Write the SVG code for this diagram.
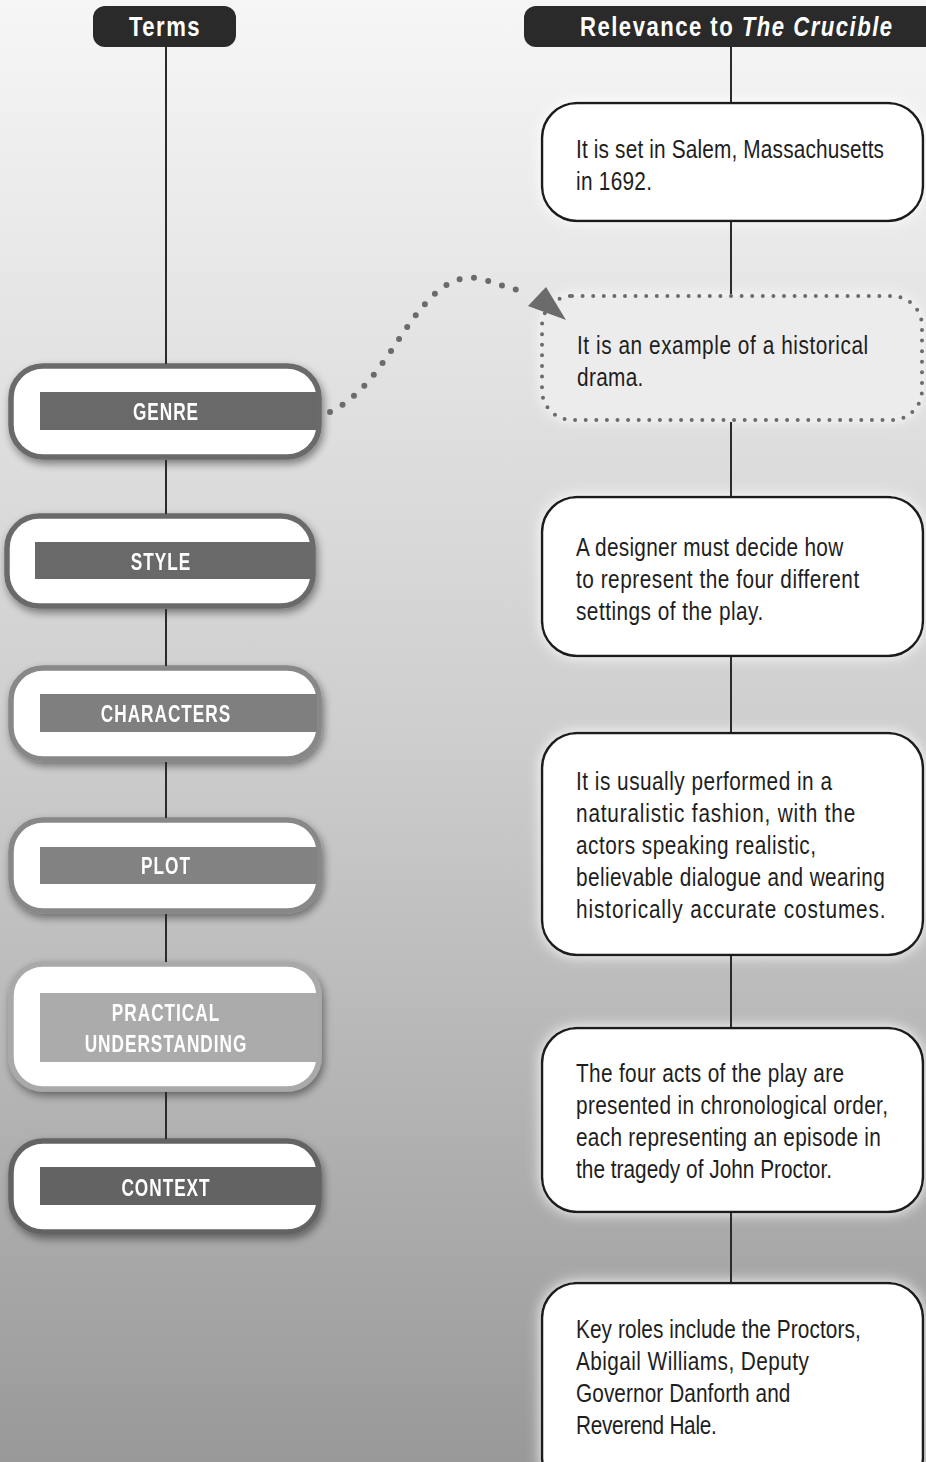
<svg xmlns="http://www.w3.org/2000/svg" width="926" height="1462" viewBox="0 0 926 1462">
<defs>
<linearGradient id="bg" x1="0" y1="0" x2="0" y2="1">
<stop offset="0" stop-color="#f6f6f6"/>
<stop offset="0.5" stop-color="#cecece"/>
<stop offset="1" stop-color="#999999"/>
</linearGradient>
<filter id="shadow" x="-10%" y="-20%" width="125%" height="160%">
<feGaussianBlur in="SourceAlpha" stdDeviation="4"/>
<feOffset dx="2" dy="4" result="o"/>
<feComponentTransfer in="o" result="s"><feFuncA type="linear" slope="0.45"/></feComponentTransfer>
<feMerge><feMergeNode in="s"/><feMergeNode in="SourceGraphic"/></feMerge>
</filter>
<filter id="glow" x="-10%" y="-20%" width="120%" height="140%">
<feGaussianBlur in="SourceAlpha" stdDeviation="7" result="b"/>
<feFlood flood-color="#ffffff" flood-opacity="0.95"/>
<feComposite in2="b" operator="in" result="g"/>
<feMerge><feMergeNode in="g"/><feMergeNode in="SourceGraphic"/></feMerge>
</filter>
<style>
.line{stroke:#2b2b2b;stroke-width:2;fill:none}
.hdrbox{fill:#2a2a2a}
.hdr{font-family:"Liberation Sans",Arial,sans-serif;font-weight:bold;font-size:27px;fill:#ffffff;letter-spacing:1.8px}
.node{fill:#ffffff;stroke-width:5.5}
.lbl{font-family:"Liberation Sans",Arial,sans-serif;font-weight:bold;font-size:23px;letter-spacing:1.3px;fill:#ffffff;text-anchor:middle}
.box{fill:#ffffff;stroke:#1e1e1e;stroke-width:2.5}
.dbox{fill:none;stroke:#6b6b6b;stroke-width:4;stroke-linecap:round;stroke-dasharray:0 10.6}
.body{font-family:"Liberation Sans",Arial,sans-serif;font-size:26px;fill:#1e1e1e}
.dots{fill:none;stroke:#6b6b6b;stroke-width:6;stroke-linecap:round;stroke-dasharray:0 14.5}
</style>
</defs>
<rect x="0" y="0" width="926" height="1462" fill="url(#bg)"/>

<g id="header-terms">
<rect class="hdrbox" x="93" y="6" width="143" height="41" rx="12"/>
<g transform="translate(165,0) scale(0.82,1)"><text class="hdr" x="0" y="36" text-anchor="middle">Terms</text></g>
</g>
<g id="header-relevance">
<rect class="hdrbox" x="524" y="6" width="430" height="41" rx="12"/>
<g transform="translate(580,0) scale(0.82,1)"><text class="hdr" x="0" y="36">Relevance to <tspan font-style="italic">The Crucible</tspan></text></g>
</g>

<g id="node-genre" filter="url(#shadow)">
<rect class="node" x="11" y="366" width="308" height="91" rx="32" stroke="#6b6b6b"/>
<rect x="40" y="392" width="277" height="38" fill="#696969"/>
<g transform="translate(166,0) scale(0.75,1)"><text class="lbl" x="0" y="420">GENRE</text></g>
</g>
<g id="node-style" filter="url(#shadow)">
<rect class="node" x="7" y="516" width="306" height="90" rx="32" stroke="#6b6b6b"/>
<rect x="35" y="542" width="276" height="37" fill="#696969"/>
<g transform="translate(161,0) scale(0.75,1)"><text class="lbl" x="0" y="570">STYLE</text></g>
</g>
<g id="node-characters" filter="url(#shadow)">
<rect class="node" x="11" y="668" width="308" height="91" rx="32" stroke="#888888"/>
<rect x="40" y="694" width="277" height="38" fill="#7f7f7f"/>
<g transform="translate(166,0) scale(0.75,1)"><text class="lbl" x="0" y="722">CHARACTERS</text></g>
</g>
<g id="node-plot" filter="url(#shadow)">
<rect class="node" x="11" y="820" width="308" height="91" rx="32" stroke="#888888"/>
<rect x="40" y="847" width="277" height="37" fill="#828282"/>
<g transform="translate(166,0) scale(0.75,1)"><text class="lbl" x="0" y="874">PLOT</text></g>
</g>
<g id="node-practical" filter="url(#shadow)">
<rect class="node" x="11" y="964" width="308" height="125" rx="32" stroke="#a9a9a9"/>
<rect x="40" y="993" width="277" height="69" fill="#ababab"/>
<g transform="translate(166,0) scale(0.75,1)"><text class="lbl" x="0" y="1021">PRACTICAL</text>
<text class="lbl" x="0" y="1052">UNDERSTANDING</text></g>
</g>
<g id="node-context" filter="url(#shadow)">
<rect class="node" x="11" y="1141" width="308" height="91" rx="32" stroke="#646464"/>
<rect x="40" y="1167" width="277" height="38" fill="#636363"/>
<g transform="translate(166,0) scale(0.75,1)"><text class="lbl" x="0" y="1196">CONTEXT</text></g>
</g>

<g id="box-1">
<rect class="box" x="542" y="103" width="381" height="118" rx="35" filter="url(#glow)"/>
<g transform="translate(576,0) scale(0.8,1)">
<text class="body" x="0" y="158" textLength="385" lengthAdjust="spacing">It is set in Salem, Massachusetts</text>
<text class="body" x="0" y="190" textLength="95" lengthAdjust="spacing">in 1692.</text>
</g>
</g>
<g id="box-2">
<rect x="542" y="296" width="380" height="124" rx="30" fill="#ececec" filter="url(#glow)"/>
<rect class="dbox" x="542" y="296" width="380" height="124" rx="30"/>
<g transform="translate(577,0) scale(0.8,1)">
<text class="body" x="0" y="354" textLength="364" lengthAdjust="spacing">It is an example of a historical</text>
<text class="body" x="0" y="386" textLength="83" lengthAdjust="spacing">drama.</text>
</g>
</g>
<g id="box-3">
<rect class="box" x="542" y="497" width="381" height="159" rx="35" filter="url(#glow)"/>
<g transform="translate(576,0) scale(0.8,1)">
<text class="body" x="0" y="556" textLength="334" lengthAdjust="spacing">A designer must decide how</text>
<text class="body" x="0" y="588" textLength="354" lengthAdjust="spacing">to represent the four different</text>
<text class="body" x="0" y="620" textLength="234" lengthAdjust="spacing">settings of the play.</text>
</g>
</g>
<g id="box-4">
<rect class="box" x="542" y="733" width="381" height="222" rx="35" filter="url(#glow)"/>
<g transform="translate(576,0) scale(0.8,1)">
<text class="body" x="0" y="790" textLength="320" lengthAdjust="spacing">It is usually performed in a</text>
<text class="body" x="0" y="822" textLength="349" lengthAdjust="spacing">naturalistic fashion, with the</text>
<text class="body" x="0" y="854" textLength="300" lengthAdjust="spacing">actors speaking realistic,</text>
<text class="body" x="0" y="886" textLength="386" lengthAdjust="spacing">believable dialogue and wearing</text>
<text class="body" x="0" y="918" textLength="387" lengthAdjust="spacing">historically accurate costumes.</text>
</g>
</g>
<g id="box-5">
<rect class="box" x="542" y="1028" width="381" height="184" rx="35" filter="url(#glow)"/>
<g transform="translate(576,0) scale(0.8,1)">
<text class="body" x="0" y="1082" textLength="335" lengthAdjust="spacing">The four acts of the play are</text>
<text class="body" x="0" y="1114" textLength="390" lengthAdjust="spacing">presented in chronological order,</text>
<text class="body" x="0" y="1146" textLength="381" lengthAdjust="spacing">each representing an episode in</text>
<text class="body" x="0" y="1178" textLength="320" lengthAdjust="spacing">the tragedy of John Proctor.</text>
</g>
</g>
<g id="box-6">
<rect class="box" x="542" y="1283" width="381" height="210" rx="35" filter="url(#glow)"/>
<g transform="translate(576,0) scale(0.8,1)">
<text class="body" x="0" y="1338" textLength="356" lengthAdjust="spacing">Key roles include the Proctors,</text>
<text class="body" x="0" y="1370" textLength="291" lengthAdjust="spacing">Abigail Williams, Deputy</text>
<text class="body" x="0" y="1402" textLength="268" lengthAdjust="spacing">Governor Danforth and</text>
<text class="body" x="0" y="1434" textLength="176" lengthAdjust="spacing">Reverend Hale.</text>
</g>
</g>

<g id="connectors">
<line class="line" x1="166" y1="47" x2="166" y2="364"/>
<line class="line" x1="166" y1="460" x2="166" y2="514"/>
<line class="line" x1="166" y1="609" x2="166" y2="666"/>
<line class="line" x1="166" y1="762" x2="166" y2="818"/>
<line class="line" x1="166" y1="914" x2="166" y2="962"/>
<line class="line" x1="166" y1="1092" x2="166" y2="1139"/>
<line class="line" x1="731" y1="47" x2="731" y2="102"/>
<line class="line" x1="731" y1="222" x2="731" y2="294"/>
<line class="line" x1="731" y1="422" x2="731" y2="496"/>
<line class="line" x1="731" y1="657" x2="731" y2="732"/>
<line class="line" x1="731" y1="956" x2="731" y2="1027"/>
<line class="line" x1="731" y1="1213" x2="731" y2="1282"/>
<path class="dots" d="M330,412 C372,392 395,340 420,310 C440,285 460,272 485,280 C500,285 512,289 526,292"/>
<polygon points="528,306 546,287 566,320" fill="#6b6b6b"/>
</g>
</svg>
